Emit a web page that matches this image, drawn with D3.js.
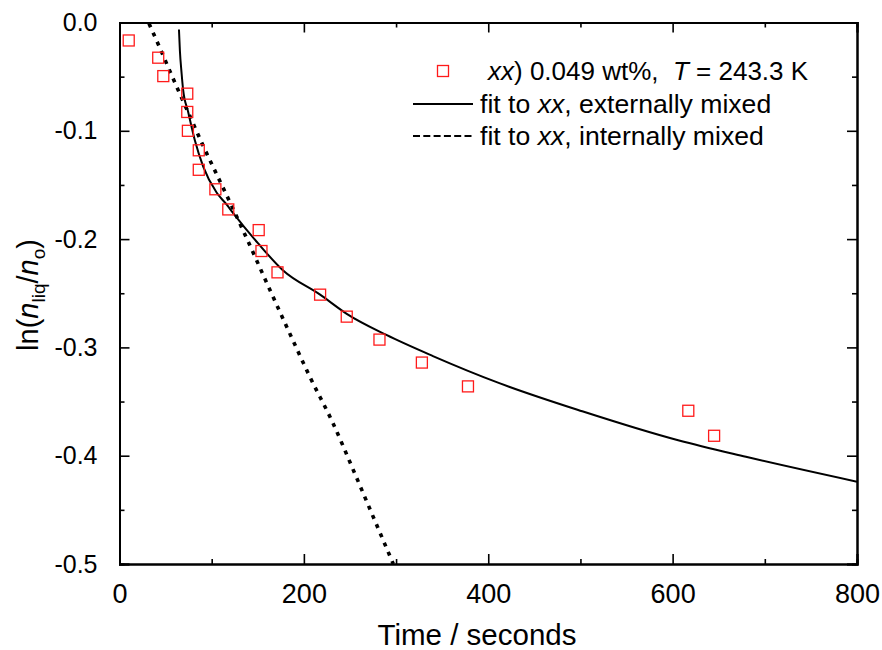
<!DOCTYPE html>
<html>
<head>
<meta charset="utf-8">
<script src="https://cdn.jsdelivr.net/npm/d3@7"></script>
<style>
  html, body { margin: 0; padding: 0; background: #fff; }
  svg text { font-family: "Liberation Sans", Arial, Helvetica, sans-serif; fill: #000; }
</style>
</head>
<body>
<svg id="chart" width="882" height="650"></svg>
<script>
// ---- data ----
const dataTime = [10, 42, 47.5, 73.5, 73.5, 74.2, 86, 86, 104, 118, 151, 154, 171.4, 217.6, 246.5, 282, 328, 378, 617, 645];
const dataLn   = [-0.0166, -0.0325, -0.0495, -0.0657, -0.0826, -0.100, -0.118, -0.136, -0.154, -0.1726, -0.1917, -0.211, -0.2307, -0.2513, -0.2716, -0.2928, -0.314, -0.336, -0.3585, -0.3816];

const extTime = [64.5, 65.5, 67.4, 69, 74.5, 81.8, 90.8, 105.3, 116.1, 123.3, 150.4, 177.5, 217.6, 246.5, 289.5, 340, 412, 502, 607, 679.5, 800];
const extLn   = [-0.0065, -0.0258, -0.0473, -0.062, -0.0826, -0.109, -0.133, -0.157, -0.168, -0.176, -0.204, -0.229, -0.2513, -0.269, -0.2885, -0.308, -0.333, -0.359, -0.386, -0.401, -0.424];

const intTime = [32, 42, 54.7, 65.5, 78.2, 90.8, 105.3, 121.5, 137.8, 159.5, 183, 206.4, 231.6, 255, 275, 297];
const intLn   = [-0.001, -0.020, -0.045, -0.066, -0.090, -0.114, -0.140, -0.169, -0.199, -0.240, -0.284, -0.327, -0.370, -0.416, -0.456, -0.500];

const xTicks = [0, 200, 400, 600, 800];
const yTicks = [0, -0.1, -0.2, -0.3, -0.4, -0.5];
const yTickLabels = ["0.0", "-0.1", "-0.2", "-0.3", "-0.4", "-0.5"];
const legendLabels = ["xx) 0.049 wt%, T = 243.3 K", "fit to xx, externally mixed", "fit to xx, internally mixed"];

// ---- layout ----
const svg = d3.select("#chart");
const L = 119.5, R = 857, T = 22.5, B = 564;
const x = d3.scaleLinear().domain([0, 800]).range([L, R]);
const y = d3.scaleLinear().domain([-0.5, 0]).range([B, T]);

svg.append("defs").append("clipPath").attr("id", "clip")
  .append("rect").attr("x", L).attr("y", T).attr("width", R - L).attr("height", B - T);

const xMajor = xTicks, xMinor = d3.range(100, 800, 200);
const yMinor = [-0.05, -0.15, -0.25, -0.35, -0.45];

const gx = svg.append("g").attr("transform", `translate(0,${B})`);
gx.call(d3.axisBottom(x).tickValues(xMajor).tickSize(-10).tickPadding(20).tickFormat(d3.format("d")));
svg.append("g").attr("transform", `translate(0,${B})`)
  .call(d3.axisBottom(x).tickValues(xMinor).tickSize(-5).tickFormat(""));
svg.append("g").attr("transform", `translate(0,${T})`)
  .call(d3.axisTop(x).tickValues(xMajor).tickSize(-10).tickFormat(""));
svg.append("g").attr("transform", `translate(0,${T})`)
  .call(d3.axisTop(x).tickValues(xMinor).tickSize(-5).tickFormat(""));

const gy = svg.append("g").attr("transform", `translate(${L},0)`);
gy.call(d3.axisLeft(y).tickValues(yTicks).tickSize(-10).tickPadding(22).tickFormat((d, i) => yTickLabels[i]));
svg.append("g").attr("transform", `translate(${L},0)`)
  .call(d3.axisLeft(y).tickValues(yMinor).tickSize(-5).tickFormat(""));
svg.append("g").attr("transform", `translate(${R},0)`)
  .call(d3.axisRight(y).tickValues(yTicks).tickSize(-10).tickFormat(""));
svg.append("g").attr("transform", `translate(${R},0)`)
  .call(d3.axisRight(y).tickValues(yMinor).tickSize(-5).tickFormat(""));

svg.selectAll(".domain").attr("stroke", "#000").attr("stroke-width", 2);
svg.selectAll(".tick line").attr("stroke", "#000").attr("stroke-width", 1.6);
gx.selectAll(".tick text").attr("font-size", 27).attr("font-family", "Liberation Sans, Arial, sans-serif").attr("dy", "0.71em");
gy.selectAll(".tick text").attr("font-size", 25).attr("font-family", "Liberation Sans, Arial, sans-serif");

// lines
const plot = svg.append("g").attr("clip-path", "url(#clip)");
const lineGen = d3.line().x(d => x(d[0])).y(d => y(d[1])).curve(d3.curveMonotoneX);
const extPts = extTime.map((t, i) => [t, extLn[i]]);
const intPts = intTime.map((t, i) => [t, intLn[i]]);
plot.append("path").attr("d", lineGen(extPts)).attr("fill", "none").attr("stroke", "#000").attr("stroke-width", 2);
plot.append("path").attr("d", lineGen(intPts)).attr("fill", "none").attr("stroke", "#000").attr("stroke-width", 3.6).attr("stroke-dasharray", "4,6");

// markers
const S = 11;
plot.selectAll("rect.pt").data(dataTime.map((t, i) => [t, dataLn[i]])).enter().append("rect")
  .attr("class", "pt")
  .attr("x", d => x(d[0]) - S / 2).attr("y", d => y(d[1]) - S / 2)
  .attr("width", S).attr("height", S)
  .attr("fill", "none").attr("stroke", "#ff1a1a").attr("stroke-width", 1.3);

// legend
const lg = svg.append("g");
lg.append("rect").attr("x", 443 - S / 2).attr("y", 71 - S / 2).attr("width", S).attr("height", S)
  .attr("fill", "none").attr("stroke", "#ff1a1a").attr("stroke-width", 1.3);
lg.append("line").attr("x1", 413).attr("x2", 473).attr("y1", 104).attr("y2", 104).attr("stroke", "#000").attr("stroke-width", 2);
lg.append("line").attr("x1", 413).attr("x2", 473).attr("y1", 136).attr("y2", 136).attr("stroke", "#000").attr("stroke-width", 2).attr("stroke-dasharray", "7,3.3");

const t1 = lg.append("text").attr("x", 488).attr("y", 80).attr("font-size", 26);
t1.append("tspan").attr("font-style", "italic").text("xx");
t1.append("tspan").text(") 0.049 wt%,\u00A0 ");
t1.append("tspan").attr("font-style", "italic").text("T");
t1.append("tspan").text(" = 243.3 K");

[[113, legendLabels[1]], [145, legendLabels[2]]].forEach(([yy, lab]) => {
  const t = lg.append("text").attr("x", 480).attr("y", yy).attr("font-size", 26.6);
  t.append("tspan").text("fit to ");
  t.append("tspan").attr("font-style", "italic").text("xx");
  t.append("tspan").text(lab.replace("fit to xx", ""));
});

// axis titles
svg.append("text").attr("x", 477).attr("y", 645).attr("text-anchor", "middle").attr("font-size", 29.5).text("Time / seconds");

const yt = svg.append("text").attr("transform", "translate(38,295) rotate(-90)").attr("text-anchor", "middle").attr("font-size", 29);
yt.append("tspan").text("ln(");
yt.append("tspan").attr("font-style", "italic").text("n");
yt.append("tspan").attr("font-size", 19).attr("dy", 7).text("liq");
yt.append("tspan").attr("dy", -7).text("/");
yt.append("tspan").attr("font-style", "italic").text("n");
yt.append("tspan").attr("font-size", 19).attr("dy", 7).text("o");
yt.append("tspan").attr("dy", -7).text(")");
</script>
</body>
</html>
